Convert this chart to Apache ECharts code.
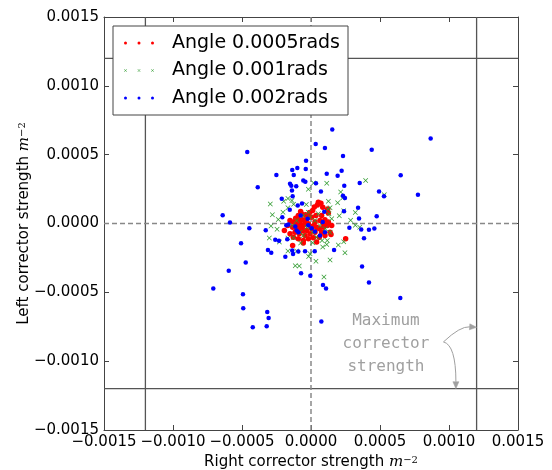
<!DOCTYPE html>
<html><head><meta charset="utf-8">
<script src="https://cdn.jsdelivr.net/npm/echarts@6/dist/echarts.min.js"></script>
<style>html,body{margin:0;padding:0;background:#fff}#c{width:552px;height:470px}</style>
</head><body><div id="c"></div>
<script>
const axisMin = -0.0015, axisMax = 0.0015, tickStep = 0.0005;
const seriesNames = ['Angle 0.0005rads', 'Angle 0.001rads', 'Angle 0.002rads'];
const xTitle = 'Right corrector strength ';
const yTitle = 'Left corrector strength ';
const unitSymbol = 'm';
const unitPower = '\u22122';

const redPoints = [
 [0.000053,0.000155],[0.000072,0.000147],[0.000046,0.000135],[0.000012,0.000094],[0.000121,0.000106],[0.000126,0.000077],
 [-0.000070,0.000070],[-0.000041,0.000063],[-0.000111,0.000039],[-0.000089,0.000027],[-0.000060,0.000027],[-0.000031,0.000034],
 [0.000005,0.000046],[0.000036,0.000058],[0.000077,0.000058],[0.000101,0.000027],[-0.000152,0.000022],[-0.000128,0.000010],
 [-0.000104,-0.000002],[-0.000080,0.000002],[-0.000056,-0.000014],[-0.000019,-0.000002],[0.000029,0.000010],[0.000065,0.000022],
 [0.000126,0.000010],[-0.000169,-0.000014],[-0.000133,-0.000027],[-0.000104,-0.000039],[-0.000068,-0.000039],[-0.000031,-0.000051],
 [0.000005,-0.000039],[0.000041,-0.000027],[0.000089,-0.000027],[0.000118,-0.000014],[0.000150,-0.000014],[-0.000116,-0.000063],
 [-0.000085,-0.000075],[-0.000043,-0.000087],[-0.000007,-0.000075],[0.000029,-0.000063],[0.000077,-0.000063],[0.000138,-0.000063],
 [-0.000152,-0.000075],[-0.000128,-0.000099],[-0.000092,-0.000111],[-0.000056,-0.000123],[-0.000019,-0.000111],[0.000017,-0.000104],
 [0.000060,-0.000099],[-0.000193,-0.000051],[-0.000133,-0.000159],[-0.000056,-0.000142],[0.000251,-0.000111],[0.000145,-0.000080],
 [-0.000043,0.000010],[-0.000002,-0.000022],[-0.000072,-0.000056],[0.000022,-0.000014],[0.000089,0.000002],[0.000060,-0.000039],
 [-0.000019,0.000046],[-0.000092,-0.000022],[0.000101,-0.000087],[0.000041,-0.000135],[-0.000092,0.000058],[0.000085,0.000118],
 [-0.000056,-0.000051],[-0.000075,0.000087],[0.000024,0.000120],[-0.000010,0.000080]
];
const greenPoints = [
 [0.000396,0.000312],[0.000019,0.000295],[0.000114,0.000292],[-0.000019,0.000249],[0.000215,0.000229],[0.000531,0.000208],
 [0.000229,0.000186],[-0.000167,0.000181],[-0.000138,0.000167],[-0.000198,0.000162],[0.000126,0.000162],[0.000193,0.000150],
 [-0.000295,0.000142],[-0.000126,0.000140],[-0.000034,0.000138],[-0.000167,0.000114],[0.000138,0.000114],[0.000237,0.000092],
 [0.000321,0.000080],[-0.000280,0.000063],[-0.000203,0.000082],[-0.000237,0.000029],[0.000205,0.000056],[0.000287,0.000024],
 [0.000321,-0.000012],[-0.000290,-0.000019],[-0.000246,-0.000041],[-0.000302,-0.000106],[-0.000229,-0.000135],[-0.000167,-0.000106],
 [-0.000126,-0.000104],[-0.000075,-0.000142],[0.000012,-0.000140],[0.000080,-0.000123],[0.000118,-0.000123],[0.000085,-0.000171],
 [0.000114,-0.000152],[0.000198,-0.000157],[0.000237,-0.000133],[-0.000167,-0.000200],[-0.000104,-0.000200],[-0.000017,-0.000239],
 [-0.000007,-0.000220],[0.000246,-0.000213],[0.000036,-0.000275],[0.000138,-0.000266],[-0.000114,-0.000307],[-0.000085,-0.000309],
 [0.000094,-0.000389],[-0.000056,0.000058],[-0.000007,0.000046],[0.000029,0.000022],[-0.000031,-0.000027],[-0.000080,-0.000063],
 [0.000012,-0.000063],[0.000041,-0.000099],[-0.000056,-0.000087],[0.000065,-0.000014],[-0.000104,0.000022],[0.000104,-0.000039],
 [0.000138,-0.000063],[0.000150,0.000034],[-0.000135,-0.000014],[-0.000019,0.000082],[0.000053,0.000070],[0.000130,0.000070],
 [0.000353,-0.000027],[0.000123,0.000106]
];
const bluePoints = [
 [0.000154,0.000683],[-0.000462,0.000520],[0.000034,0.000578],[0.000101,0.000549],[0.000440,0.000536],[0.000232,0.000491],
 [-0.000036,0.000456],[-0.000099,0.000404],[-0.000038,0.000396],[-0.000136,0.000389],[-0.000251,0.000353],[-0.000125,0.000353],
 [0.000114,0.000362],[0.000222,0.000384],[0.000193,0.000346],[0.000650,0.000350],[-0.000056,0.000312],[-0.000041,0.000304],
 [0.000036,0.000292],[0.000353,0.000295],[-0.000152,0.000288],[-0.000143,0.000275],[-0.000107,0.000270],[0.000241,0.000275],
 [-0.000386,0.000263],[-0.000138,0.000239],[0.000072,0.000232],[0.000493,0.000232],[-0.000133,0.000198],[0.000232,0.000201],
 [0.000246,0.000186],[0.000529,0.000198],[-0.000212,0.000179],[-0.000065,0.000145],[-0.000096,0.000130],[-0.000154,0.000099],
 [0.000341,0.000114],[0.000096,0.000085],[0.000239,0.000089],[-0.000640,0.000060],[-0.000208,0.000046],[0.000476,0.000053],
 [0.000348,0.000036],[-0.000587,0.000007],[-0.000179,-0.000012],[-0.000114,-0.000022],[-0.000447,-0.000034],[-0.000328,-0.000049],
 [0.000278,-0.000031],[0.000364,-0.000043],[0.000420,-0.000046],[0.000459,-0.000036],[-0.000104,-0.000051],[0.000005,-0.000034],
 [-0.000020,-0.000012],[0.000065,-0.000087],[0.000384,-0.000107],[-0.000259,-0.000118],[-0.000232,-0.000125],[-0.000172,-0.000114],
 [-0.000507,-0.000143],[0.000167,-0.000193],[-0.000312,-0.000193],[-0.000288,-0.000212],[-0.000136,-0.000196],[-0.000130,-0.000222],
 [-0.000092,-0.000203],[-0.000043,-0.000201],[0.000027,-0.000201],[-0.000186,-0.000241],[-0.000473,-0.000283],[0.000370,-0.000312],
 [-0.000596,-0.000343],[-0.000072,-0.000362],[-0.000005,-0.000379],[0.000420,-0.000428],[-0.000708,-0.000473],[0.000087,-0.000447],
 [0.000109,-0.000473],[0.000647,-0.000541],[-0.000493,-0.000514],[-0.000491,-0.000616],[-0.000317,-0.000643],[-0.000307,-0.000686],
 [-0.000321,-0.000746],[-0.000422,-0.000754],[0.000075,-0.000712],[0.000867,0.000618],[0.000775,0.000208],
 [-0.000024,0.000034],[-0.000075,0.000058],[0.000029,-0.000058],[0.000085,0.000010],[-0.000092,-0.000063],[0.000101,-0.000063],
 [-0.000164,-0.000007]
];
const limitLines = [-0.0012, 0.0012];
const zeroLines = [0];
const annotationText = 'Maximum\ncorrector\nstrength';
const annotationAnchor = [0.000543, -0.000877];
const arrowStart = [0.00096, -0.00086];
const arrowTips = [[0.0012, -0.000754], [0.00105, -0.0012]];
const arrowCtrls = [[0.00108, -0.000746], [0.00105, -0.000884]];

const FONT = 'DejaVu Sans';
const fmt = v => { if (Math.abs(v) < 1e-12) v = 0; return v.toFixed(4).replace('-', '\u2212'); };
const dotPath = 'path://M0,5A5,5 0 1,1 10,5A5,5 0 1,1 0,5Z';
const xPath = 'path://M0,1L1,0L5,4L9,0L10,1L6,5L10,9L9,10L5,6L1,10L0,9L4,5Z';
const dots3 = 'path://M0,5A5,5 0 1,1 10,5A5,5 0 1,1 0,5ZM45,5A5,5 0 1,1 55,5A5,5 0 1,1 45,5ZM90,5A5,5 0 1,1 100,5A5,5 0 1,1 90,5Z';
const xs3 = 'path://M0,1L1,0L5,4L9,0L10,1L6,5L10,9L9,10L5,6L1,10L0,9L4,5ZM45,1L46,0L50,4L54,0L55,1L51,5L55,9L54,10L50,6L46,10L45,9L49,5ZM90,1L91,0L95,4L99,0L100,1L96,5L100,9L99,10L95,6L91,10L90,9L94,5Z';

const richName = {
  a: { fontSize: 15, fontFamily: FONT, color: '#000' },
  b: { fontSize: 15, fontFamily: 'DejaVu Serif', fontStyle: 'italic', color: '#000' },
  c: { fontSize: 10, fontFamily: 'DejaVu Serif', color: '#000', verticalAlign: 'top' }
};
const frame = { show: true, onZero: false, lineStyle: { color: '#444', width: 1 } };
const ticks = { show: true, inside: true, length: 5, lineStyle: { color: '#444' } };
const baseAxis = { type: 'value', min: axisMin, max: axisMax, interval: tickStep, splitLine: { show: false }, axisLine: frame, axisTick: ticks };
const labelStyle = { formatter: fmt, fontSize: 15, fontFamily: FONT, color: '#000', margin: 5, showMinLabel: true, showMaxLabel: true };

const chart = echarts.init(document.getElementById('c'), null, { renderer: 'canvas' });
const solidStyle = { color: '#555', width: 1.3, type: 'solid' };
const dashStyle = { color: '#888', width: 1.5, type: [5, 3] };
const guideSeries = (pts, style) => ({ type: 'line', data: pts, symbol: 'none', silent: true, lineStyle: style, z: 1, legendHoverLink: false });
const guides = [].concat(
  limitLines.map(v => guideSeries([[v, axisMin], [v, axisMax]], solidStyle)),
  limitLines.map(v => guideSeries([[axisMin, v], [axisMax, v]], solidStyle)),
  zeroLines.map(v => guideSeries([[v, axisMin], [v, axisMax]], dashStyle)),
  zeroLines.map(v => guideSeries([[axisMin, v], [axisMax, v]], dashStyle))
);

const option = {
  animation: false,
  backgroundColor: '#fff',
  grid: { left: 104, right: 34, top: 17, bottom: 40, containLabel: false, outerBoundsMode: 'none' },
  xAxis: [
    Object.assign({}, baseAxis, { position: 'bottom', axisLabel: labelStyle,
      name: '{a|' + xTitle + '}{b|' + unitSymbol + '}{c|' + unitPower + '}', nameLocation: 'middle', nameGap: 25,
      nameMoveOverlap: false,
      nameTextStyle: { fontSize: 15, fontFamily: FONT, color: '#000', rich: richName } }),
    Object.assign({}, baseAxis, { position: 'top', axisLabel: { show: false } })
  ],
  yAxis: [
    Object.assign({}, baseAxis, { position: 'left', axisLabel: labelStyle,
      name: '{a|' + yTitle + '}{b|' + unitSymbol + '}{c|' + unitPower + '}', nameLocation: 'middle', nameGap: 72,
      nameMoveOverlap: false,
      nameTextStyle: { fontSize: 15, fontFamily: FONT, color: '#000', rich: richName } }),
    Object.assign({}, baseAxis, { position: 'right', axisLabel: { show: false } })
  ],
  legend: {
    left: 113, top: 26, orient: 'vertical', z: 20,
    backgroundColor: '#fff', borderColor: '#444', borderWidth: 1, borderRadius: 0,
    padding: [7, 8, 7, 11], itemGap: 7.5, itemWidth: 30, itemHeight: 3,
    textStyle: { fontSize: 19, fontFamily: FONT, color: '#000', lineHeight: 20, padding: [0, 0, 0, 13] },
    data: [
      { name: seriesNames[0], icon: dots3 },
      { name: seriesNames[1], icon: xs3 },
      { name: seriesNames[2], icon: dots3 }
    ],
    selectedMode: false
  },
  series: guides.concat([
    { name: seriesNames[0], type: 'scatter', data: redPoints, symbol: dotPath, symbolSize: 5.5, z: 3,
      itemStyle: { color: '#ff0000', opacity: 1 } },
    { name: seriesNames[1], type: 'scatter', data: greenPoints, symbol: xPath, symbolSize: 5, z: 3,
      itemStyle: { color: '#2e9a2e', opacity: 1 } },
    { name: seriesNames[2], type: 'scatter', data: bluePoints, symbol: dotPath, symbolSize: 4.5, z: 3,
      itemStyle: { color: '#0000ff', opacity: 1 } }
  ])
};
chart.setOption(option);

const px = v => chart.convertToPixel({ gridIndex: 0 }, v);
const annColor = '#a0a0a0';
const elems = [];
const tp = px(annotationAnchor);
elems.push({ type: 'text', x: tp[0], y: tp[1], z: 10,
  style: { text: annotationText, fill: annColor, fontSize: 16, fontFamily: 'DejaVu Sans Mono', align: 'center', verticalAlign: 'middle', lineHeight: 23 } });
const sp = px(arrowStart);
arrowTips.forEach((tip, i) => {
  const t = px(tip), c = px(arrowCtrls[i]);
  let dx = t[0] - c[0], dy = t[1] - c[1];
  const L = Math.hypot(dx, dy); dx /= L; dy /= L;
  const len = 7, hw = 3;
  const bx = t[0] - dx * len, by = t[1] - dy * len;
  elems.push({ type: 'bezierCurve', z: 10,
    shape: { x1: sp[0], y1: sp[1], x2: bx, y2: by, cpx1: c[0], cpy1: c[1] },
    style: { stroke: annColor, fill: null, lineWidth: 1 } });
  elems.push({ type: 'polygon', z: 10,
    shape: { points: [[t[0], t[1]], [bx - dy * hw, by + dx * hw], [bx + dy * hw, by - dx * hw]] },
    style: { fill: annColor, stroke: annColor, lineWidth: 0.5 } });
});
chart.setOption({ graphic: elems });
</script>
</body></html>
